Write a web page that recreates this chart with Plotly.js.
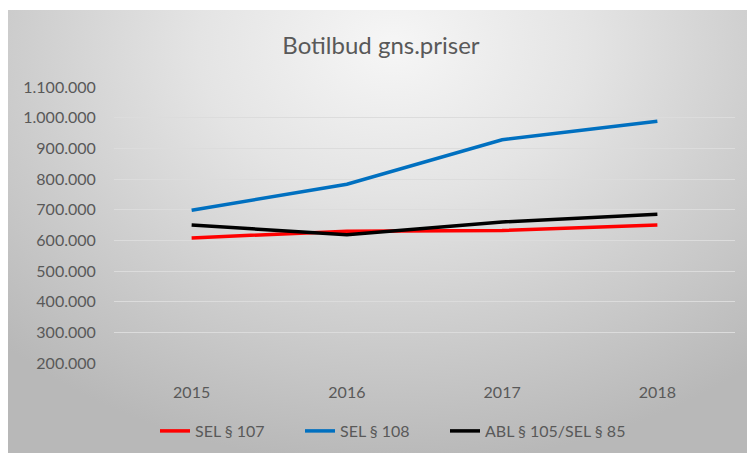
<!DOCTYPE html>
<html>
<head>
<meta charset="utf-8">
<script src="https://cdn.plot.ly/plotly-3.0.1.min.js"></script>
<style>
  html, body { margin:0; padding:0; background:#ffffff; }
  #wrap { position:relative; width:747px; height:453px; overflow:hidden; }
  #bg { position:absolute; left:8px; top:10px; right:0; bottom:0;
        background: radial-gradient(ellipse 75% 95% at 52% 8%, #f6f6f6 0%, #e4e4e4 35%, #cfcfcf 65%, #b8b8b8 100%); }
  #chart { position:absolute; left:0; top:0; width:747px; height:453px; }
</style>
</head>
<body>
<div id="wrap"><div id="bg"></div><div id="chart"></div></div>
<script>
const years = ['2015', '2016', '2017', '2018'];
const sel107 = [608000, 630000, 632000, 650000];
const sel108 = [698000, 783000, 928000, 988000];
const abl105 = [650000, 618000, 660000, 685000];
const seriesNames = ['SEL § 107', 'SEL § 108', 'ABL § 105/SEL § 85'];
const yTicks = [200000, 300000, 400000, 500000, 600000, 700000, 800000, 900000, 1000000, 1100000];

const fontFam = 'Lato, "Open Sans", sans-serif';
const mk = (y, name, color, lg) => ({
  x: years, y: y, name: name, type: 'scatter', mode: 'lines', legend: lg,
  line: {color: color, width: 3.5}
});

const data = [
  mk(sel107, seriesNames[0], '#ff0000', 'legend'),
  mk(sel108, seriesNames[1], '#0070c0', 'legend2'),
  mk(abl105, seriesNames[2], '#000000', 'legend3')
];

const lg = (px) => ({orientation: 'h', xref: 'container', yref: 'container',
  x: px / 747, xanchor: 'left', y: 1 - 431 / 453, yanchor: 'middle',
  font: {size: 16, color: '#595959'}, bgcolor: 'rgba(0,0,0,0)', itemwidth: 30});

const layout = {
  width: 747, height: 453,
  paper_bgcolor: 'rgba(0,0,0,0)',
  plot_bgcolor: 'rgba(0,0,0,0)',
  separators: ',.',
  margin: {l: 114, r: 12, t: 87, b: 90},
  font: {family: fontFam, color: '#595959', size: 16},
  title: {text: 'Botilbud gns.priser', x: 0.51, xanchor: 'center', y: 0.9, yanchor: 'middle',
          yref: 'container', font: {family: fontFam, size: 24, color: '#595959'}},
  xaxis: {type: 'category', range: [-0.5, 3.5], showgrid: false, zeroline: false, showline: false,
          ticks: 'outside', ticklen: 15, tickcolor: 'rgba(0,0,0,0)',
          tickfont: {size: 16, color: '#595959'}},
  yaxis: {range: [200000, 1100000], tickvals: yTicks, tickformat: ',d',
          showgrid: true, gridcolor: '#dcdcdc', gridwidth: 1, zeroline: false, showline: false,
          ticks: 'outside', ticklen: 14, tickcolor: 'rgba(0,0,0,0)',
          tickfont: {size: 16, color: '#595959'}},
  legend: lg(155),
  legend2: lg(300),
  legend3: lg(445),
  showlegend: true
};

Plotly.newPlot('chart', data, layout, {displayModeBar: false, staticPlot: true});
</script>
</body>
</html>
